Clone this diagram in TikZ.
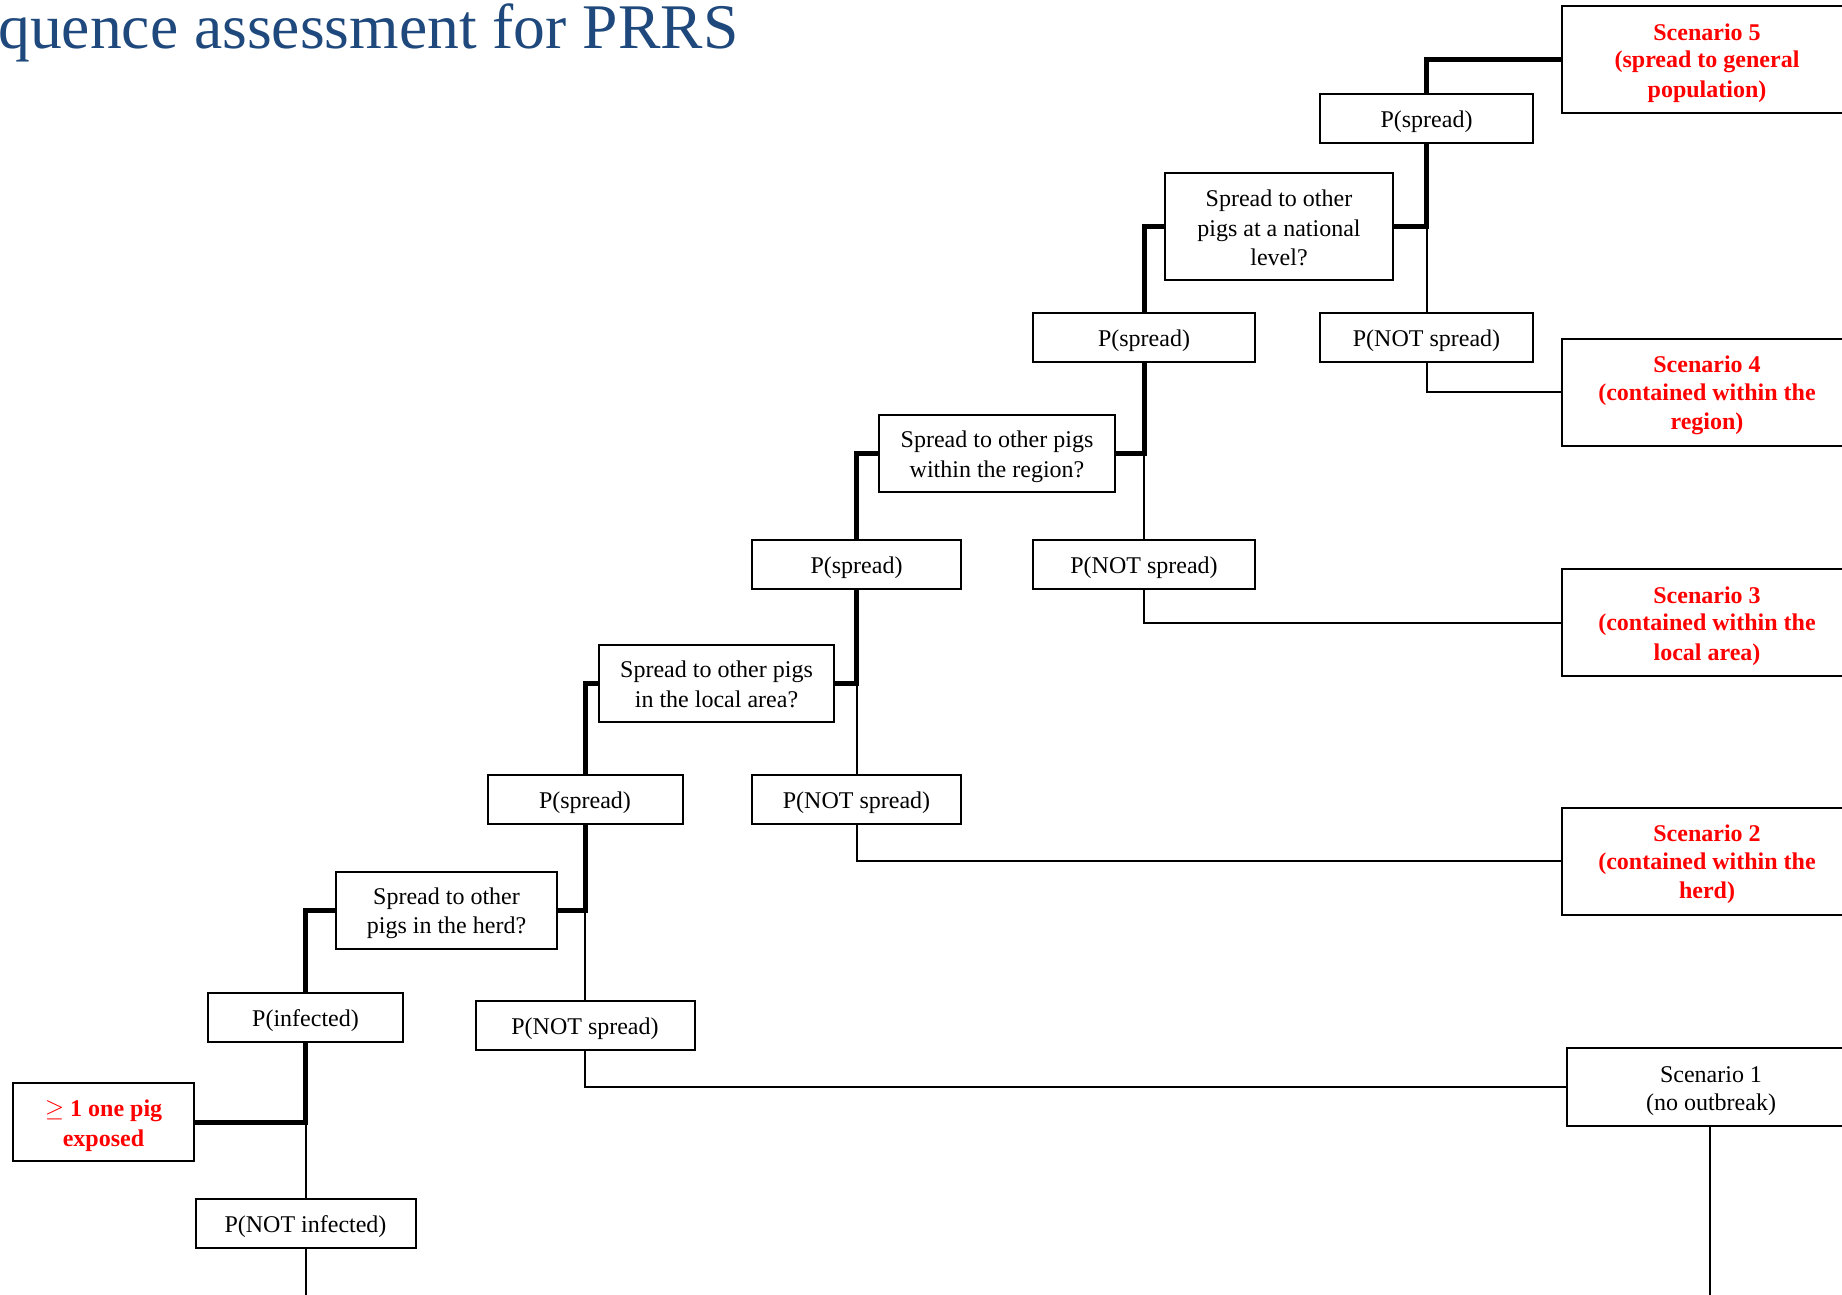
\documentclass[tikz,border=0pt]{standalone}
\usepackage{fontspec}
\setmainfont{Liberation Serif}
\definecolor{titleblue}{RGB}{31,73,125}
\definecolor{scenred}{RGB}{255,0,0}
% fixed line box for every text line in the boxes
\newcommand\ls{\rule[-4.1pt]{0pt}{27.6pt}}
\begin{document}
\begin{tikzpicture}[x=1pt,y=-1pt,
  box/.style={draw=black, line width=2pt, rectangle, inner sep=0pt, align=center,
    font=\fontsize{24}{27.6}\selectfont, minimum height=49pt},
  qbox/.style={box, minimum height=77pt},
  scen/.style={box, anchor=west, text=scenred, font=\fontsize{24}{27.6}\selectfont\bfseries,
    minimum height=107pt, minimum width=290pt},
  mainpath/.style={line width=5pt},
  sidepath/.style={line width=2pt},
]
\useasboundingbox (0,0) rectangle (1842,1294);
\begin{scope}
\clip (0,0) rectangle (1842,1294);

% title
\node[anchor=base west, inner sep=0pt, text=titleblue, font=\fontsize{63.6}{68}\selectfont]
  (title) at (-2,48) {quence assessment for PRRS};

% decision chain
\node[box, text=scenred, font=\fontsize{24}{27.6}\selectfont\bfseries,
  minimum width=181pt, minimum height=78pt] (exposed) at (103.5,1122)
  {\ls$\geq$ 1 one pig\\\ls exposed};
\node[box, minimum width=195pt] (pinf)  at (305.5,1017) {\ls P(infected)};
\node[box, minimum width=220pt] (pninf) at (305.5,1223) {\ls P(NOT infected)};

\node[qbox, minimum width=221pt] (qherd) at (446.5,910) {\ls Spread to other\\\ls pigs in the herd?};
\node[box, minimum width=195pt] (ps1) at (585,799) {\ls P(spread)};
\node[box, minimum width=219pt] (pn1) at (585,1025.5) {\ls P(NOT spread)};

\node[qbox, minimum width=235pt] (qloc) at (716.5,683) {\ls Spread to other pigs\\\ls in the local area?};
\node[box, minimum width=209pt] (ps2) at (856.5,564) {\ls P(spread)};
\node[box, minimum width=209pt] (pn2) at (856.5,799) {\ls P(NOT spread)};

\node[qbox, minimum width=236pt] (qreg) at (997,453) {\ls Spread to other pigs\\\ls within the region?};
\node[box, minimum width=222pt] (ps3) at (1144,337) {\ls P(spread)};
\node[box, minimum width=222pt] (pn3) at (1144,564) {\ls P(NOT spread)};

\node[box, minimum width=228pt, minimum height=107pt] (qnat) at (1279,226.5)
  {\ls Spread to other\\\ls pigs at a national\\\ls level?};
\node[box, minimum width=213pt] (ps4) at (1426.5,118.5) {\ls P(spread)};
\node[box, minimum width=213pt] (pn4) at (1426.5,337) {\ls P(NOT spread)};

% outcome boxes
\node[scen] (s5) at (1561,59.5) {\ls Scenario 5\\\ls (spread to general\\\ls population)};
\node[scen] (s4) at (1561,392) {\ls Scenario 4\\\ls (contained within the\\\ls region)};
\node[scen] (s3) at (1561,622.5) {\ls Scenario 3\\\ls (contained within the\\\ls local area)};
\node[scen] (s2) at (1561,861) {\ls Scenario 2\\\ls (contained within the\\\ls herd)};
\node[box, anchor=west, minimum width=288pt, minimum height=78.5pt] (s1) at (1566,1087)
  {\ls Scenario 1\\\ls (no outbreak)};

\coordinate (endA) at (305.5,1300);
\coordinate (endB) at (1710,1300);

% main (spread) path
\draw[mainpath] (exposed.east) -| (pinf.south);
\draw[mainpath] (pinf.north) |- (qherd.west);
\draw[mainpath] (qherd.east) -| (ps1.south);
\draw[mainpath] (ps1.north) |- (qloc.west);
\draw[mainpath] (qloc.east) -| (ps2.south);
\draw[mainpath] (ps2.north) |- (qreg.west);
\draw[mainpath] (qreg.east) -| (ps3.south);
\draw[mainpath] (ps3.north) |- (qnat.west);
\draw[mainpath] (qnat.east) -| (ps4.south);
\draw[mainpath] (ps4.north) |- (s5.west);

% side (not spread) branches
\draw[sidepath] (pinf.south |- exposed.east) -- (pninf.north);
\draw[sidepath] (pninf.south) -- (endA);
\draw[sidepath] (ps1.south |- qherd.east) -- (pn1.north);
\draw[sidepath] (pn1.south) |- (s1.west);
\draw[sidepath] (s1.south -| endB) -- (endB);
\draw[sidepath] (ps2.south |- qloc.east) -- (pn2.north);
\draw[sidepath] (pn2.south) |- (s2.west);
\draw[sidepath] (ps3.south |- qreg.east) -- (pn3.north);
\draw[sidepath] (pn3.south) |- (s3.west);
\draw[sidepath] (ps4.south |- qnat.east) -- (pn4.north);
\draw[sidepath] (pn4.south) |- (s4.west);
\end{scope}
\end{tikzpicture}
\end{document}
